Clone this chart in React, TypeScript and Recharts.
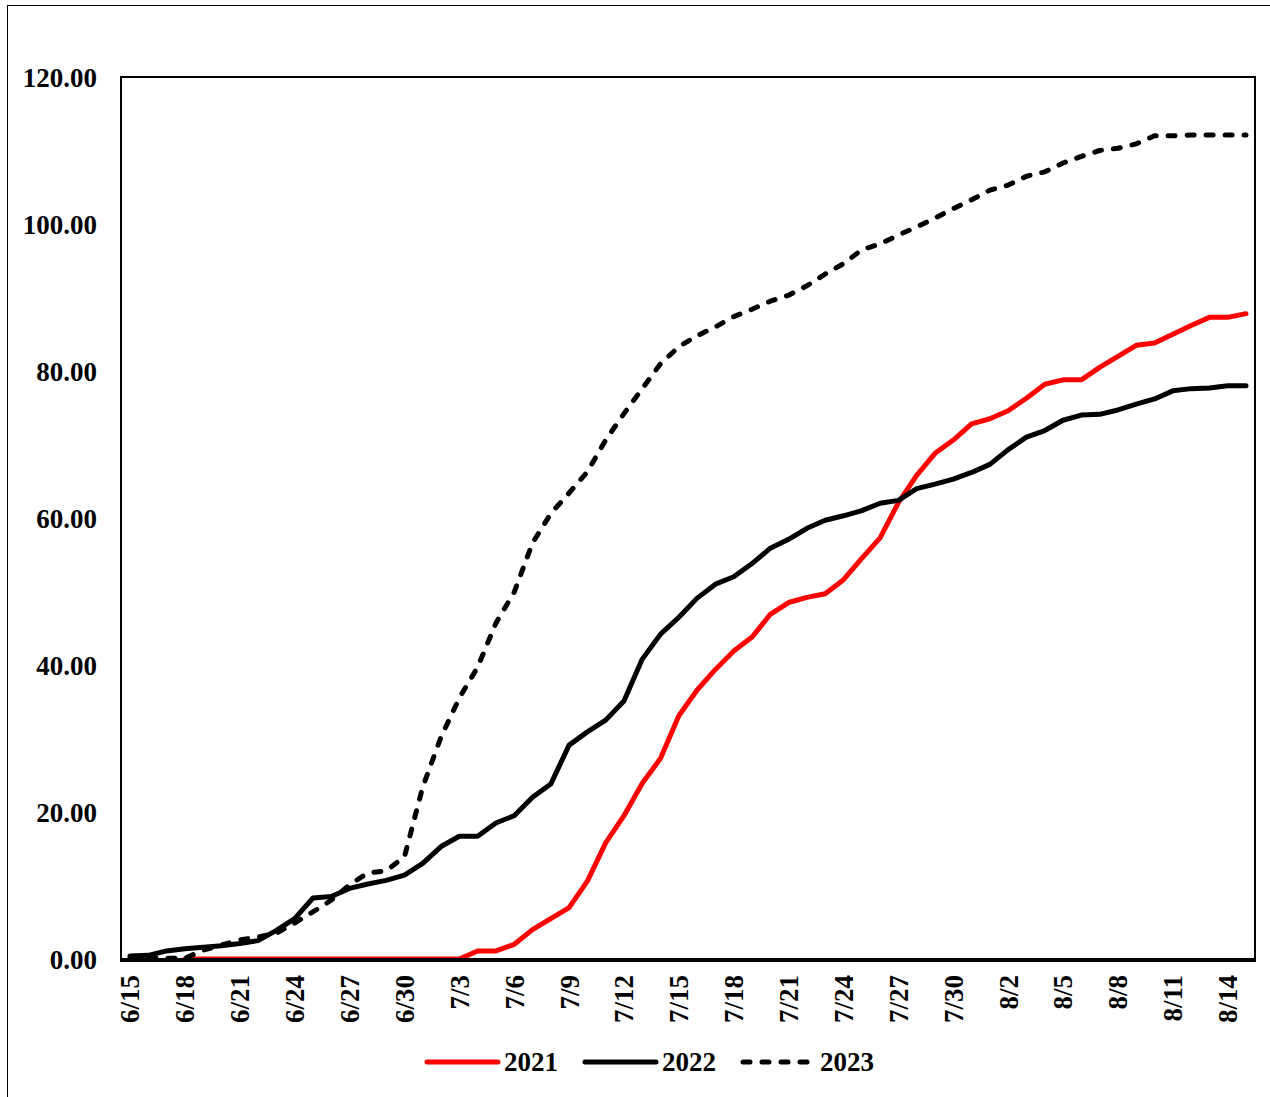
import { LineChart, Line, XAxis, YAxis } from "recharts";

const DATES = [
  "6/15", "6/16", "6/17", "6/18", "6/19", "6/20", "6/21", "6/22", "6/23", "6/24",
  "6/25", "6/26", "6/27", "6/28", "6/29", "6/30",
  "7/1", "7/2", "7/3", "7/4", "7/5", "7/6", "7/7", "7/8", "7/9", "7/10",
  "7/11", "7/12", "7/13", "7/14", "7/15", "7/16", "7/17", "7/18", "7/19", "7/20",
  "7/21", "7/22", "7/23", "7/24", "7/25", "7/26", "7/27", "7/28", "7/29", "7/30", "7/31",
  "8/1", "8/2", "8/3", "8/4", "8/5", "8/6", "8/7", "8/8", "8/9", "8/10",
  "8/11", "8/12", "8/13", "8/14", "8/15",
];

const Y2021 = [
  null, null, null, 0, 0, 0, 0, 0, 0, 0,
  0, 0, 0, 0, 0, 0,
  0, 0, 0, 1.1, 1.1, 2.0, 4.0, 5.5, 7.0, 10.6,
  15.8, 19.5, 23.9, 27.3, 33.1, 36.6, 39.4, 41.9, 43.8, 46.9,
  48.5, 49.2, 49.7, 51.6, 54.5, 57.3, 62.1, 65.8, 68.8, 70.6, 72.8,
  73.5, 74.6, 76.3, 78.2, 78.8, 78.8, 80.5, 82.0, 83.5, 83.8,
  85.0, 86.2, 87.3, 87.3, 87.8,
];

const Y2022 = [
  0.4, 0.5, 1.1, 1.4, 1.6, 1.8, 2.1, 2.5, 3.9, 5.5,
  8.3, 8.5, 9.6, 10.2, 10.7, 11.4,
  13.0, 15.3, 16.7, 16.7, 18.5, 19.5, 22.0, 23.8, 29.1, 30.9,
  32.5, 35.1, 40.8, 44.2, 46.5, 49.1, 51.0, 52.0, 53.8, 55.9,
  57.1, 58.6, 59.7, 60.3, 61.0, 62.0, 62.4, 64.0, 64.6, 65.3, 66.2,
  67.3, 69.3, 71.0, 71.9, 73.3, 74.0, 74.1, 74.7, 75.5, 76.2,
  77.3, 77.6, 77.7, 78.0, 78.0,
];

const Y2023 = [
  0.3, 0.2, 0.1, 0.1, 1.2, 1.9, 2.6, 3.0, 3.5, 4.9,
  6.4, 8.0, 10.1, 11.7, 12.0, 13.9,
  23.4, 30.2, 35.5, 39.7, 45.7, 49.9, 56.6, 60.6, 63.4, 66.3,
  70.6, 74.2, 77.6, 81.0, 83.3, 84.8, 86.0, 87.4, 88.4, 89.5,
  90.3, 91.6, 93.2, 94.6, 96.5, 97.3, 98.5, 99.6, 100.8, 102.1, 103.3,
  104.6, 105.3, 106.5, 107.1, 108.3, 109.2, 110.0, 110.3, 110.9, 112.0,
  112.0, 112.1, 112.1, 112.1, 112.1,
];

const Y_TICKS = [0, 20, 40, 60, 80, 100, 120];

const SERIES = [
  { key: "y2021", name: "2021", color: "#ff0000", dash: undefined },
  { key: "y2022", name: "2022", color: "#000000", dash: undefined },
  { key: "y2023", name: "2023", color: "#000000", dash: "7 12" },
];

const rows = DATES.map((date, i) => ({
  date,
  y2021: Y2021[i],
  y2022: Y2022[i],
  y2023: Y2023[i],
}));

const FONT = '"Liberation Serif", "Times New Roman", serif';

function DateTick(props: any) {
  const { x, y, payload } = props;
  return (
    <text
      x={x}
      y={y}
      transform={`rotate(-90 ${x} ${y})`}
      textAnchor="end"
      dy="0.35em"
      fontFamily={FONT}
      fontWeight="bold"
      fontSize={27}
      fill="#000"
    >
      {payload.value}
    </text>
  );
}

function LegendRow() {
  const spots = [427, 585, 743];
  return (
    <svg
      width={1270}
      height={60}
      style={{ position: "absolute", left: 0, top: 1032 }}
    >
      {SERIES.map((s, i) => (
        <g key={s.key}>
          <line
            x1={spots[i]}
            x2={spots[i] + 71}
            y1={30}
            y2={30}
            stroke={s.color}
            strokeWidth={5}
            strokeLinecap="round"
            strokeDasharray={s.dash}
          />
          <text
            x={spots[i] + 77}
            y={30}
            dy="0.35em"
            fontFamily={FONT}
            fontWeight="bold"
            fontSize={27}
            fill="#000"
          >
            {s.name}
          </text>
        </g>
      ))}
    </svg>
  );
}

export default function App() {
  const axisLine = { stroke: "#000", strokeWidth: 2 };
  return (
    <div
      style={{
        position: "absolute",
        left: 0,
        top: 0,
        width: 1270,
        height: 1097,
        overflow: "hidden",
        background: "#fff",
      }}
    >
      <div
        style={{
          position: "absolute",
          left: 7,
          top: 5,
          width: 1400,
          height: 1300,
          border: "1px solid #000",
        }}
      />
      <div style={{ position: "absolute", left: 0, top: 0 }}>
        <LineChart
          width={1270}
          height={1097}
          data={rows}
          margin={{ top: 77, right: 15, bottom: 0, left: 0 }}
        >
          <XAxis
            dataKey="date"
            height={138}
            interval={2}
            tickLine={false}
            tickSize={0}
            tickMargin={16}
            padding={{ left: 9, right: 9 }}
            axisLine={axisLine}
            tick={(p: any) => <DateTick {...p} />}
          />
          <YAxis
            width={121}
            domain={[0, 120]}
            ticks={Y_TICKS}
            interval={0}
            tickLine={false}
            tickSize={0}
            tickMargin={24}
            axisLine={axisLine}
            tickFormatter={(v: number) => v.toFixed(2)}
            tick={{
              fontFamily: FONT,
              fontWeight: "bold",
              fontSize: 27,
              fill: "#000",
            }}
          />
          {SERIES.map((s) => (
            <Line
              key={s.key}
              dataKey={s.key}
              name={s.name}
              type="linear"
              stroke={s.color}
              strokeWidth={5}
              strokeDasharray={s.dash}
              strokeLinecap="round"
              strokeLinejoin="round"
              dot={false}
              activeDot={false}
              isAnimationActive={false}
            />
          ))}
        </LineChart>
      </div>
      {/* plot-area frame */}
      <div
        style={{
          position: "absolute",
          left: 120,
          top: 76,
          width: 1132,
          height: 882,
          border: "2px solid #000",
          pointerEvents: "none",
        }}
      />
      <LegendRow />
    </div>
  );
}
